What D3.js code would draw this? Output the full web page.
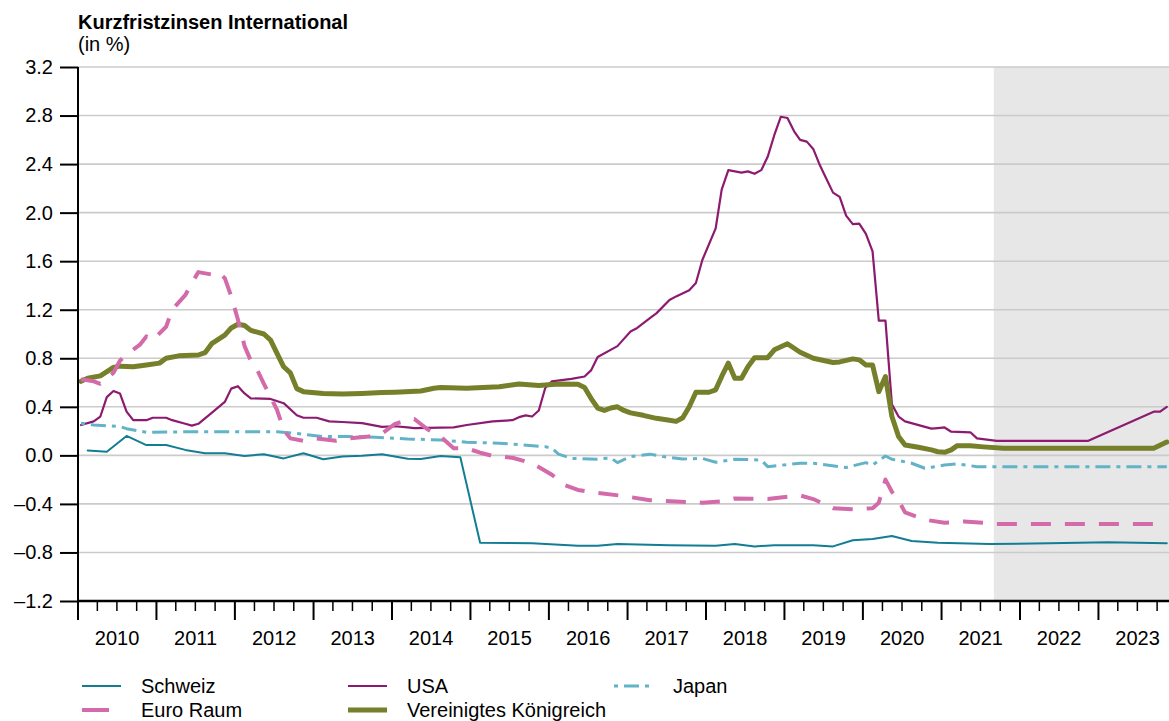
<!DOCTYPE html>
<html>
<head>
<meta charset="utf-8">
<script src="https://cdn.jsdelivr.net/npm/d3@7"></script>
<style>
  body { margin: 0; background: #fff; }
  text { font-family: "Liberation Sans", Arial, sans-serif; fill: #000; }
</style>
</head>
<body>
<div id="my_dataviz"></div>
<script>
// data (monthly)
var schweiz = [
  ["2010-02", 0.04], ["2010-05", 0.03], ["2010-08", 0.16], ["2010-11", 0.085], ["2011-02", 0.085],
  ["2011-05", 0.045], ["2011-08", 0.017], ["2011-11", 0.017], ["2012-02", -0.005], ["2012-05", 0.01],
  ["2012-08", -0.025], ["2012-11", 0.017], ["2013-02", -0.032], ["2013-05", -0.01], ["2013-08", -0.003],
  ["2013-11", 0.01], ["2014-03", -0.027], ["2014-05", -0.03], ["2014-08", -0.005], ["2014-11", -0.015],
  ["2015-02", -0.72], ["2015-10", -0.725], ["2016-05", -0.745], ["2016-08", -0.745], ["2016-11", -0.73],
  ["2017-07", -0.74], ["2018-02", -0.745], ["2018-05", -0.73], ["2018-08", -0.75], ["2018-11", -0.74],
  ["2019-05", -0.74], ["2019-08", -0.75], ["2019-11", -0.70], ["2020-02", -0.69], ["2020-05", -0.665],
  ["2020-08", -0.705], ["2020-12", -0.72], ["2021-08", -0.73], ["2022-05", -0.725], ["2023-02", -0.715],
  ["2023-11", -0.725]
];

var usa = [
  ["2010-01", 0.25], ["2010-03", 0.28], ["2010-04", 0.32], ["2010-05", 0.48], ["2010-06", 0.53],
  ["2010-07", 0.51], ["2010-08", 0.36], ["2010-09", 0.29], ["2010-11", 0.29], ["2010-12", 0.31],
  ["2011-02", 0.31], ["2011-03", 0.29], ["2011-05", 0.26], ["2011-06", 0.245], ["2011-07", 0.26],
  ["2011-09", 0.35], ["2011-11", 0.44], ["2011-12", 0.55], ["2012-01", 0.57], ["2012-02", 0.51],
  ["2012-03", 0.47], ["2012-06", 0.465], ["2012-08", 0.43], ["2012-10", 0.33], ["2012-11", 0.31],
  ["2013-01", 0.31], ["2013-03", 0.28], ["2013-05", 0.275], ["2013-08", 0.265], ["2013-11", 0.235],
  ["2014-01", 0.24], ["2014-03", 0.23], ["2014-04", 0.225], ["2014-10", 0.23], ["2014-12", 0.25],
  ["2015-04", 0.28], ["2015-07", 0.29], ["2015-08", 0.315], ["2015-09", 0.33], ["2015-10", 0.32],
  ["2015-11", 0.37], ["2015-12", 0.555], ["2016-01", 0.61], ["2016-04", 0.63], ["2016-06", 0.65],
  ["2016-07", 0.70], ["2016-08", 0.81], ["2016-11", 0.90], ["2016-12", 0.96], ["2017-01", 1.02],
  ["2017-02", 1.05], ["2017-04", 1.13], ["2017-05", 1.17], ["2017-07", 1.28], ["2017-08", 1.31],
  ["2017-10", 1.36], ["2017-11", 1.42], ["2017-12", 1.61], ["2018-02", 1.87], ["2018-03", 2.19],
  ["2018-04", 2.35], ["2018-06", 2.33], ["2018-07", 2.34], ["2018-08", 2.32], ["2018-09", 2.35],
  ["2018-10", 2.46], ["2018-11", 2.64], ["2018-12", 2.79], ["2019-01", 2.78], ["2019-02", 2.67],
  ["2019-03", 2.60], ["2019-04", 2.585], ["2019-05", 2.525], ["2019-06", 2.39], ["2019-07", 2.28],
  ["2019-08", 2.165], ["2019-09", 2.13], ["2019-10", 1.975], ["2019-11", 1.905], ["2019-12", 1.91],
  ["2020-01", 1.825], ["2020-02", 1.68], ["2020-03", 1.11], ["2020-04", 1.11], ["2020-05", 0.42],
  ["2020-06", 0.32], ["2020-07", 0.28], ["2020-11", 0.22], ["2020-12", 0.225], ["2021-01", 0.23],
  ["2021-02", 0.195], ["2021-05", 0.19], ["2021-06", 0.14], ["2021-09", 0.12], ["2022-11", 0.12],
  ["2023-09", 0.36], ["2023-10", 0.36], ["2023-11", 0.40]
];

var japan = [
  ["2010-01", 0.265], ["2010-03", 0.25], ["2010-07", 0.237], ["2010-08", 0.22], ["2010-11", 0.19],
  ["2011-06", 0.195], ["2012-07", 0.195], ["2012-10", 0.18], ["2013-02", 0.155], ["2013-06", 0.155],
  ["2013-10", 0.15], ["2014-03", 0.135], ["2014-08", 0.127], ["2014-12", 0.108], ["2015-05", 0.10],
  ["2015-12", 0.072], ["2016-01", 0.058], ["2016-02", 0.01], ["2016-04", -0.025], ["2016-08", -0.032],
  ["2016-10", -0.02], ["2016-11", -0.06], ["2017-01", -0.01], ["2017-04", 0.01], ["2017-06", -0.01],
  ["2017-09", -0.03], ["2017-12", -0.025], ["2018-02", -0.057], ["2018-05", -0.032], ["2018-09", -0.038],
  ["2018-10", -0.093], ["2019-03", -0.065], ["2019-05", -0.065], ["2019-10", -0.10], ["2020-01", -0.06],
  ["2020-02", -0.08], ["2020-04", -0.005], ["2020-05", -0.032], ["2020-08", -0.065], ["2020-10", -0.106],
  ["2020-11", -0.098], ["2021-01", -0.08], ["2021-03", -0.07], ["2021-06", -0.093], ["2023-11", -0.093]
];

var euroRaum = [
  ["2010-01", 0.627], ["2010-03", 0.61], ["2010-04", 0.59], ["2010-06", 0.68], ["2010-07", 0.78],
  ["2010-08", 0.83], ["2010-10", 0.91], ["2010-11", 0.98], ["2010-12", 0.95], ["2011-02", 1.06],
  ["2011-03", 1.20], ["2011-05", 1.32], ["2011-06", 1.42], ["2011-07", 1.51], ["2011-09", 1.49],
  ["2011-10", 1.51], ["2011-11", 1.46], ["2011-12", 1.31], ["2012-01", 1.12], ["2012-02", 0.90],
  ["2012-03", 0.78], ["2012-04", 0.70], ["2012-05", 0.59], ["2012-07", 0.375], ["2012-08", 0.21],
  ["2012-09", 0.14], ["2012-11", 0.12], ["2013-01", 0.14], ["2013-04", 0.12], ["2013-06", 0.14],
  ["2013-09", 0.155], ["2013-11", 0.18], ["2014-01", 0.26], ["2014-03", 0.29], ["2014-04", 0.30],
  ["2014-06", 0.215], ["2014-08", 0.155], ["2014-10", 0.058], ["2014-12", 0.058], ["2015-02", 0.022],
  ["2015-04", -0.005], ["2015-07", -0.02], ["2015-10", -0.065], ["2016-01", -0.16], ["2016-03", -0.245],
  ["2016-05", -0.285], ["2016-08", -0.31], ["2016-12", -0.335], ["2017-04", -0.37], ["2017-12", -0.39],
  ["2018-03", -0.38], ["2018-05", -0.355], ["2018-10", -0.36], ["2019-03", -0.33], ["2019-05", -0.36],
  ["2019-08", -0.435], ["2019-11", -0.445], ["2020-02", -0.435], ["2020-03", -0.39], ["2020-04", -0.20],
  ["2020-05", -0.30], ["2020-06", -0.37], ["2020-07", -0.47], ["2020-10", -0.53], ["2021-01", -0.555],
  ["2021-04", -0.545], ["2021-07", -0.555], ["2021-09", -0.565], ["2023-11", -0.565]
];

var vereinigtesKoenigreich = [
  ["2010-01", 0.61], ["2010-02", 0.635], ["2010-04", 0.655], ["2010-06", 0.725], ["2010-07", 0.735],
  ["2010-09", 0.73], ["2010-11", 0.745], ["2011-01", 0.76], ["2011-02", 0.80], ["2011-04", 0.82],
  ["2011-07", 0.827], ["2011-08", 0.846], ["2011-09", 0.92], ["2011-11", 0.99], ["2011-12", 1.05],
  ["2012-01", 1.08], ["2012-02", 1.07], ["2012-03", 1.03], ["2012-05", 1.0], ["2012-06", 0.95],
  ["2012-07", 0.84], ["2012-08", 0.73], ["2012-09", 0.68], ["2012-10", 0.55], ["2012-11", 0.525],
  ["2013-02", 0.51], ["2013-05", 0.505], ["2013-08", 0.51], ["2013-11", 0.517], ["2014-01", 0.52],
  ["2014-05", 0.53], ["2014-07", 0.553], ["2014-08", 0.56], ["2014-12", 0.553], ["2015-05", 0.566],
  ["2015-08", 0.588], ["2015-11", 0.575], ["2016-02", 0.588], ["2016-05", 0.586], ["2016-06", 0.56],
  ["2016-07", 0.47], ["2016-08", 0.39], ["2016-09", 0.37], ["2016-10", 0.39], ["2016-11", 0.40],
  ["2016-12", 0.37], ["2017-01", 0.35], ["2017-03", 0.33], ["2017-05", 0.305], ["2017-07", 0.29],
  ["2017-08", 0.28], ["2017-09", 0.31], ["2017-10", 0.40], ["2017-11", 0.52], ["2018-01", 0.52],
  ["2018-02", 0.54], ["2018-03", 0.65], ["2018-04", 0.76], ["2018-05", 0.635], ["2018-06", 0.635],
  ["2018-07", 0.73], ["2018-08", 0.805], ["2018-10", 0.805], ["2018-11", 0.87], ["2019-01", 0.92],
  ["2019-03", 0.85], ["2019-05", 0.80], ["2019-08", 0.765], ["2019-09", 0.77], ["2019-11", 0.795],
  ["2019-12", 0.787], ["2020-01", 0.745], ["2020-02", 0.745], ["2020-03", 0.525], ["2020-04", 0.65],
  ["2020-05", 0.32], ["2020-06", 0.155], ["2020-07", 0.085], ["2020-09", 0.067], ["2020-11", 0.045],
  ["2020-12", 0.03], ["2021-01", 0.025], ["2021-02", 0.045], ["2021-03", 0.08], ["2021-05", 0.08],
  ["2021-07", 0.07], ["2021-10", 0.058], ["2023-09", 0.058], ["2023-11", 0.11]
];

var yTicks = [-1.2, -0.8, -0.4, 0.0, 0.4, 0.8, 1.2, 1.6, 2.0, 2.4, 2.8, 3.2];
var years = [2010, 2011, 2012, 2013, 2014, 2015, 2016, 2017, 2018, 2019, 2020, 2021, 2022, 2023];
var forecastStart = "2021-09";

var series = [
  { name: "Schweiz", values: schweiz, color: "#127d93", width: 2, dash: null },
  { name: "Euro Raum", values: euroRaum, color: "#d36aa9", width: 4, dash: "20,14" },
  { name: "USA", values: usa, color: "#8c1b70", width: 2.2, dash: null },
  { name: "Vereinigtes Königreich", values: vereinigtesKoenigreich, color: "#767f29", width: 5, dash: null },
  { name: "Japan", values: japan, color: "#62b3c7", width: 3, dash: "4,6,15,6" }
];
var drawOrder = ["Schweiz", "USA", "Vereinigtes Königreich", "Japan", "Euro Raum"];

// set the dimensions and margins of the graph
var margin = { top: 67, right: 0, bottom: 120, left: 78 },
    width = 1169 - margin.left - margin.right,
    height = 721 - margin.top - margin.bottom,
    fontSize = "20px";

var svg = d3.select("#my_dataviz")
    .append("svg")
    .attr("width", 1169)
    .attr("height", 721);

var g = svg.append("g")
    .attr("transform", "translate(" + margin.left + "," + margin.top + ")");

var parseMonth = d3.timeParse("%Y-%m");
// values are monthly averages, place them mid-month
function monthDate(s) { var d = parseMonth(s); return new Date(d.getFullYear(), d.getMonth(), 15); }

// X axis: one year is 78.5px wide, the plot is cut at the right edge
var start = new Date(2010, 0, 1);
var end = new Date(start.getTime() + width / 78.5 * 365.25 * 864e5);
var x = d3.scaleTime()
    .domain([start, end])
    .range([0, width]);

var y = d3.scaleLinear()
    .domain([-1.2, 3.2])
    .range([height, 0]);

// forecast shading
g.append("rect")
    .attr("x", x(parseMonth(forecastStart)))
    .attr("y", 0)
    .attr("width", width - x(parseMonth(forecastStart)))
    .attr("height", height)
    .attr("fill", "#e7e7e7");

// grid lines
g.selectAll(".grid")
    .data(yTicks.filter(function (d) { return d > -1.2; }))
    .enter()
    .append("line")
    .attr("x1", 0)
    .attr("x2", width)
    .attr("y1", function (d) { return y(d); })
    .attr("y2", function (d) { return y(d); })
    .attr("stroke", "#cbcbcb")
    .attr("stroke-width", 1.6);

// lines
g.append("clipPath").attr("id", "clip")
    .append("rect").attr("x", 0).attr("y", -10).attr("width", width).attr("height", height + 10);

var line = d3.line()
    .x(function (d) { return x(monthDate(d[0])); })
    .y(function (d) { return y(d[1]); });

drawOrder.forEach(function (name) {
    var s = series.find(function (d) { return d.name === name; });
    g.append("path")
        .datum(s.values)
        .attr("clip-path", "url(#clip)")
        .attr("fill", "none")
        .attr("stroke", s.color)
        .attr("stroke-width", s.width)
        .attr("stroke-linejoin", "round")
        .attr("stroke-linecap", s.dash ? "butt" : "round")
        .attr("stroke-dasharray", s.dash)
        .attr("d", line);
});

// Y axis
var yAxis = g.append("g")
    .call(d3.axisLeft(y).tickValues(yTicks).tickSize(18).tickPadding(7)
        .tickFormat(function (d) { return d3.format(".1f")(d).replace("-", "\u2013").replace("\u2212", "\u2013"); }));
yAxis.select(".domain").remove();
yAxis.selectAll(".tick line").attr("stroke", "#000").attr("stroke-width", 2);
yAxis.selectAll("text").style("font-size", fontSize).attr("fill", "#000");
g.append("line")
    .attr("x1", 0).attr("x2", 0).attr("y1", 0).attr("y2", height + 19)
    .attr("stroke", "#000").attr("stroke-width", 2);

// X axis: years and quarters
var xAxis = g.append("g").attr("transform", "translate(0," + height + ")");
xAxis.append("line")
    .attr("x1", 0).attr("x2", width).attr("y1", 0).attr("y2", 0)
    .attr("stroke", "#000").attr("stroke-width", 2.5);
var quarters = d3.timeMonth.every(3).range(start, end);
xAxis.selectAll(".qtick")
    .data(quarters)
    .enter()
    .append("line")
    .attr("x1", function (d) { return x(d); })
    .attr("x2", function (d) { return x(d); })
    .attr("y1", 0)
    .attr("y2", function (d) { return d.getMonth() === 0 ? 19 : 10; })
    .attr("stroke", "#000")
    .attr("stroke-width", function (d) { return d.getMonth() === 0 ? 2 : 1.5; });
xAxis.selectAll(".ylabel")
    .data(years)
    .enter()
    .append("text")
    .attr("x", function (d) { return x(new Date(d, 6, 2)); })
    .attr("y", 44)
    .attr("text-anchor", "middle")
    .style("font-size", fontSize)
    .text(function (d) { return d; });

// title
svg.append("text")
    .attr("x", 78).attr("y", 29)
    .style("font-size", fontSize).style("font-weight", "bold")
    .text("Kurzfristzinsen International");
svg.append("text")
    .attr("x", 78).attr("y", 51)
    .style("font-size", fontSize)
    .text("(in %)");

// legend
var legendPos = {
    "Schweiz": [82, 686], "USA": [348, 686], "Japan": [614, 686],
    "Euro Raum": [82, 710], "Vereinigtes Königreich": [348, 710]
};
series.forEach(function (s) {
    var p = legendPos[s.name];
    svg.append("line")
        .attr("x1", p[0]).attr("x2", s.name === "Euro Raum" ? p[0] + 27 : p[0] + 39)
        .attr("y1", p[1]).attr("y2", p[1])
        .attr("stroke", s.color)
        .attr("stroke-width", s.width)
        .attr("stroke-linecap", "butt")
        .attr("stroke-dasharray", s.name === "Japan" ? s.dash : null);
    svg.append("text")
        .attr("x", p[0] + 59).attr("y", p[1] + 7)
        .style("font-size", fontSize)
        .text(s.name);
});
</script>
</body>
</html>
